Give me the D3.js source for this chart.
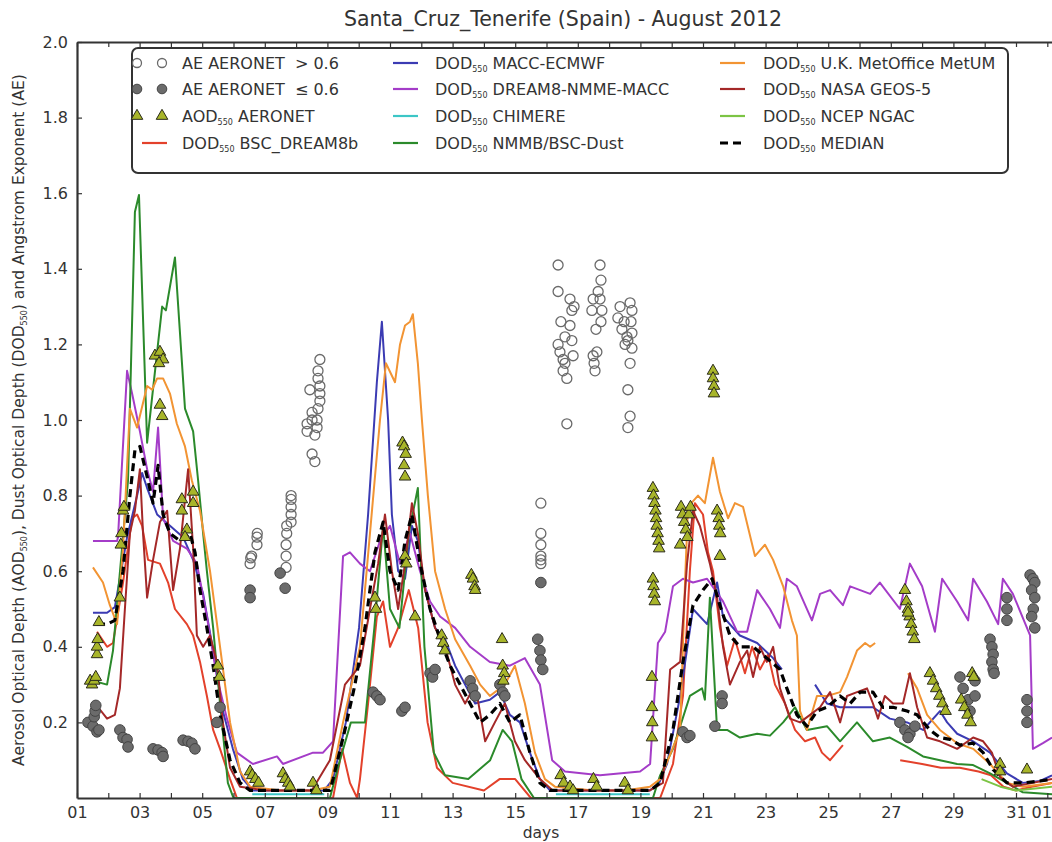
<!DOCTYPE html>
<html>
<head>
<meta charset="utf-8">
<script src="https://cdnjs.cloudflare.com/ajax/libs/d3/7.8.5/d3.min.js"></script>
<style>
  body { margin: 0; background: #fff; }
  text { font-family: "DejaVu Sans", sans-serif; fill: #333; }
</style>
</head>
<body>
<div id="chart"></div>
<script>
// --- data: [day of August, value]; null value = gap in the series ---
var bscDream8b = [[1.64,0.44],[1.96,0.40],[2.15,0.41],[2.47,0.57],[2.76,0.74],[2.92,0.75],[3.08,0.72],[3.27,0.63],[3.65,0.62],[3.91,0.57],[4.13,0.50],[4.51,0.46],[4.71,0.43],[4.93,0.36],[5.15,0.27],[5.35,0.18],[5.57,0.13],[5.89,0.05],[6.11,0.0],[9.18,0.0],[9.47,0.13],[9.72,0.04],[9.95,0.0],[10.04,0.05],[10.30,0.25],[10.58,0.48],[10.78,0.52],[11.0,0.40],[11.26,0.45],[11.60,0.55],[11.90,0.45],[12.20,0.20],[12.50,0.08],[13.0,0.04],[14.0,0.02],[14.5,0.05],[15.0,0.05],[15.5,0.0],[19.63,0.0],[20.04,0.09],[20.36,0.27],[20.58,0.60],[20.74,0.78],[21.0,0.75],[21.16,0.65],[21.32,0.60],[21.54,0.45],[21.77,0.35],[22.02,0.42],[22.34,0.33],[22.57,0.40],[22.82,0.34],[23.08,0.38],[23.30,0.30],[23.62,0.25],[23.94,0.18],[24.26,0.15],[24.58,0.16],[24.80,0.12],[25.06,0.10],[25.47,0.14],[25.6,null],[27.3,0.10],[28.0,0.09],[28.6,0.08],[29.2,0.08],[29.8,0.07],[30.2,0.06],[30.6,0.03],[31.0,0.02],[31.5,0.03],[32.15,0.04]];
var maccEcmwf = [[1.51,0.49],[1.96,0.49],[2.21,0.505],[2.60,0.69],[2.92,0.80],[3.08,0.86],[3.24,0.82],[3.56,0.75],[3.97,0.72],[4.39,0.69],[4.71,0.63],[5.03,0.54],[5.35,0.39],[5.66,0.23],[5.98,0.13],[6.30,0.05],[6.62,0.02],[8.9,0.02],[9.18,0.05],[9.59,0.20],[10.01,0.45],[10.30,0.75],[10.58,1.10],[10.74,1.26],[10.94,1.0],[11.06,0.75],[11.26,0.60],[11.48,0.58],[11.70,0.72],[11.89,0.68],[12.12,0.55],[12.44,0.45],[12.76,0.42],[13.08,0.35],[13.40,0.30],[13.72,0.25],[14.19,0.26],[14.51,0.28],[14.83,0.22],[15.15,0.20],[15.47,0.12],[15.79,0.05],[16.11,0.02],[19.3,0.02],[19.6,0.04],[19.85,0.09],[20.27,0.27],[20.68,0.50],[21.13,0.46],[21.45,0.57],[21.64,0.48],[22.18,0.43],[22.73,0.41],[23.24,0.37],[23.52,0.34],[24.0,null],[24.58,0.30],[24.96,0.25],[25.38,0.24],[25.92,0.24],[26.43,0.24],[26.97,0.21],[27.52,0.20],[28.03,0.18],[28.57,0.23],[28.80,0.20],[29.12,0.17],[29.63,0.15],[30.17,0.12],[30.71,0.065],[31.22,0.04],[31.77,0.045],[32.15,0.06]];
var dream8Nmme = [[1.51,0.68],[2.28,0.68],[2.31,0.69],[2.60,1.13],[2.76,1.07],[3.01,0.97],[3.24,0.87],[3.43,0.81],[3.59,0.98],[3.75,0.74],[4.07,0.68],[4.51,0.66],[4.83,0.62],[5.15,0.48],[5.47,0.32],[5.79,0.21],[6.11,0.12],[6.62,0.09],[7.39,0.11],[7.58,0.09],[8.54,0.12],[8.86,0.12],[9.18,0.15],[9.50,0.64],[9.72,0.65],[10.04,0.62],[10.36,0.60],[10.68,0.68],[11.0,0.72],[11.32,0.62],[11.64,0.70],[11.96,0.60],[12.28,0.52],[12.60,0.48],[13.08,0.45],[13.56,0.40],[14.19,0.36],[14.83,0.35],[15.31,0.37],[15.79,0.30],[16.18,0.10],[16.59,0.07],[17.71,0.06],[18.99,0.07],[19.31,0.09],[19.56,0.41],[19.79,0.44],[20.04,0.56],[20.36,0.58],[20.68,0.57],[21.13,0.58],[21.64,0.52],[22.09,0.44],[22.41,0.44],[22.73,0.55],[23.14,0.50],[23.46,0.45],[23.68,0.58],[24.0,0.56],[24.48,0.47],[24.74,0.54],[25.06,0.55],[25.47,0.51],[25.70,0.56],[26.34,0.54],[26.65,0.57],[27.29,0.50],[27.61,0.62],[28.0,0.56],[28.41,0.44],[28.64,0.58],[29.12,0.52],[29.47,0.47],[29.63,0.58],[30.07,0.52],[30.43,0.46],[30.58,0.58],[30.90,0.54],[31.45,0.43],[31.54,0.13],[31.86,0.145],[32.15,0.16]];
var chimere = [[6.6,0.01],[8.9,0.01],[9.0,null],[16.3,0.01],[19.3,0.01]];
var nmmbDust = [[1.51,0.31],[1.96,0.30],[2.15,0.39],[2.63,0.84],[2.85,1.55],[2.98,1.595],[3.24,0.94],[3.72,1.30],[3.84,1.29],[4.13,1.43],[4.45,1.03],[4.71,0.97],[4.87,0.84],[5.03,0.70],[5.15,0.60],[5.35,0.45],[5.57,0.25],[5.82,0.04],[6.0,0.0],[9.08,0.0],[9.40,0.10],[9.75,0.20],[10.20,0.20],[10.50,0.45],[10.78,0.72],[11.0,0.50],[11.30,0.45],[11.60,0.70],[11.89,0.82],[12.10,0.40],[12.40,0.12],[12.76,0.06],[13.50,0.05],[14.20,0.10],[14.60,0.18],[14.90,0.15],[15.20,0.05],[15.60,0.0],[19.40,0.0],[19.63,0.06],[20.04,0.13],[20.58,0.27],[20.97,0.29],[21.06,0.26],[21.22,0.53],[21.45,0.18],[21.77,0.18],[22.18,0.16],[22.73,0.17],[23.14,0.165],[23.56,0.20],[23.94,0.24],[24.32,0.18],[24.96,0.19],[25.38,0.15],[25.92,0.20],[26.43,0.15],[26.97,0.16],[27.52,0.135],[28.03,0.11],[28.57,0.10],[29.12,0.09],[29.63,0.087],[30.17,0.065],[30.71,0.04],[31.22,0.015],[32.15,0.01]];
var metUM = [[1.51,0.61],[1.83,0.57],[2.05,0.51],[2.28,0.46],[2.47,0.66],[2.69,1.03],[2.92,0.98],[3.24,1.09],[3.40,1.08],[3.56,1.11],[3.75,1.11],[3.97,1.07],[4.19,0.99],[4.45,0.93],[4.67,0.84],[4.93,0.76],[5.25,0.60],[5.57,0.40],[5.89,0.20],[6.21,0.07],[6.53,0.03],[7.5,0.02],[8.5,0.02],[9.08,0.03],[9.50,0.20],[10.04,0.40],[10.36,0.70],[10.68,1.0],[10.87,1.15],[11.16,1.10],[11.32,1.20],[11.48,1.25],[11.64,1.26],[11.73,1.28],[11.89,1.15],[12.02,1.0],[12.21,0.80],[12.44,0.60],[12.76,0.50],[13.08,0.42],[13.56,0.35],[13.88,0.30],[14.19,0.27],[14.67,0.30],[14.99,0.35],[15.31,0.25],[15.63,0.12],[15.95,0.05],[16.27,0.03],[17.5,0.02],[18.5,0.02],[19.31,0.03],[19.63,0.05],[20.27,0.18],[20.43,0.58],[20.52,0.77],[20.84,0.80],[21.06,0.78],[21.32,0.90],[21.54,0.81],[21.80,0.74],[22.02,0.78],[22.28,0.77],[22.66,0.64],[22.98,0.67],[23.24,0.63],[23.56,0.56],[23.84,0.47],[24.0,0.43],[24.10,0.23],[24.32,0.18],[24.64,0.27],[24.96,0.27],[25.38,0.28],[25.60,0.32],[25.92,0.39],[26.18,0.41],[26.34,0.40],[26.50,0.41],[26.6,null],[27.55,0.33],[27.84,0.29],[28.16,0.22],[28.57,0.18],[29.12,0.145],[29.63,0.13],[30.17,0.09],[30.71,0.04],[31.22,0.03],[32.15,0.04]];
var geos5 = [[1.58,0.25],[1.96,0.21],[2.21,0.22],[2.37,0.29],[2.53,0.50],[2.69,0.70],[2.85,0.76],[3.01,0.87],[3.11,0.70],[3.24,0.53],[3.43,0.63],[3.65,0.73],[3.88,0.76],[4.07,0.55],[4.29,0.66],[4.55,0.87],[4.71,0.66],[4.83,0.43],[5.03,0.40],[5.25,0.43],[5.47,0.36],[5.66,0.20],[5.89,0.08],[6.21,0.03],[7.0,0.02],[8.5,0.02],[9.08,0.10],[9.56,0.30],[10.04,0.35],[10.36,0.50],[10.62,0.62],[10.84,0.75],[11.06,0.60],[11.26,0.50],[11.48,0.62],[11.70,0.78],[11.89,0.70],[12.12,0.55],[12.44,0.45],[12.76,0.40],[13.08,0.30],[13.40,0.25],[13.72,0.30],[14.04,0.15],[14.35,0.20],[14.67,0.25],[14.99,0.15],[15.31,0.10],[15.79,0.05],[16.2,0.02],[19.3,0.02],[19.72,0.04],[19.95,0.34],[20.27,0.36],[20.49,0.62],[20.68,0.76],[20.90,0.72],[21.22,0.62],[21.45,0.53],[21.64,0.40],[21.86,0.30],[22.18,0.36],[22.41,0.39],[22.60,0.32],[22.82,0.40],[23.04,0.36],[23.24,0.40],[23.46,0.29],[23.78,0.21],[24.10,0.20],[24.42,0.22],[24.74,0.24],[25.06,0.28],[25.38,0.20],[25.60,0.27],[25.92,0.28],[26.24,0.29],[26.43,0.25],[26.59,0.21],[26.81,0.27],[27.07,0.25],[27.39,0.25],[27.61,0.33],[27.84,0.24],[28.16,0.16],[28.57,0.15],[29.12,0.13],[29.63,0.16],[29.95,0.15],[30.23,0.12],[30.49,0.055],[30.90,0.03],[31.54,0.04],[32.15,0.05]];
var ncepNgac = [[29.9,0.05],[30.5,0.03],[31.0,0.02],[32.15,0.03]];
var median = [[1.64,0.46],[1.96,0.46],[2.21,0.47],[2.47,0.60],[2.69,0.80],[2.85,0.92],[3.01,0.93],[3.24,0.85],[3.43,0.78],[3.59,0.88],[3.75,0.75],[3.97,0.70],[4.29,0.68],[4.61,0.70],[4.77,0.65],[4.93,0.55],[5.15,0.45],[5.35,0.35],[5.57,0.22],[5.89,0.10],[6.21,0.04],[6.53,0.02],[9.08,0.02],[9.18,0.05],[9.56,0.18],[9.88,0.30],[10.20,0.45],[10.52,0.65],[10.78,0.73],[11.0,0.60],[11.26,0.55],[11.48,0.68],[11.70,0.75],[11.96,0.62],[12.28,0.50],[12.60,0.42],[12.92,0.35],[13.24,0.30],[13.56,0.25],[13.88,0.20],[14.19,0.22],[14.51,0.25],[14.83,0.20],[15.15,0.22],[15.47,0.12],[15.79,0.04],[16.11,0.02],[19.31,0.02],[19.63,0.04],[20.04,0.18],[20.36,0.36],[20.68,0.51],[21.0,0.55],[21.29,0.58],[21.54,0.51],[21.86,0.43],[22.18,0.40],[22.60,0.40],[23.04,0.37],[23.46,0.34],[23.68,0.29],[24.0,0.22],[24.32,0.19],[24.64,0.23],[24.96,0.24],[25.38,0.27],[25.70,0.25],[26.02,0.28],[26.43,0.28],[26.75,0.24],[27.07,0.24],[27.52,0.23],[27.84,0.22],[28.25,0.18],[28.57,0.16],[28.89,0.155],[29.21,0.14],[29.63,0.145],[29.95,0.12],[30.27,0.075],[30.71,0.04],[31.22,0.04],[31.77,0.045],[32.15,0.05]];

var aeHigh = [[6.53,0.62],[6.55,0.635],[6.58,0.64],[6.75,0.67],[6.75,0.69],[6.76,0.70],
  [7.68,0.61],[7.68,0.64],[7.68,0.67],[7.70,0.70],[7.70,0.72],[7.84,0.73],[7.84,0.75],[7.84,0.77],[7.84,0.79],[7.84,0.80],
  [8.76,1.16],[8.70,1.13],[8.70,1.11],[8.76,1.09],[8.76,1.05],[8.44,1.08],[8.51,1.02],[8.51,1.0],[8.67,1.0],[8.35,0.97],[8.60,0.96],[8.51,0.91],[8.60,0.89],[8.67,0.98],[8.76,1.07],[8.70,1.03],[8.35,0.99],
  [15.82,0.78],[15.82,0.70],[15.82,0.67],[15.82,0.64],[15.82,0.63],[15.82,0.62],
  [16.37,1.41],[16.37,1.34],[16.46,1.26],[16.37,1.20],[16.43,1.18],[16.53,1.16],[16.65,1.11],[16.59,1.15],[16.65,0.99],[16.75,1.32],[16.81,1.29],[16.75,1.25],[16.81,1.21],[16.85,1.17],[16.88,1.30],[16.53,1.13],[16.59,1.22],
  [17.49,1.32],[17.45,1.29],[17.58,1.24],[17.65,1.34],[17.71,1.41],[17.74,1.37],[17.71,1.32],[17.77,1.29],[17.61,1.18],[17.49,1.17],[17.52,1.15],[17.55,1.13],[17.74,1.26],
  [18.35,1.30],[18.48,1.26],[18.41,1.24],[18.57,1.22],[18.51,1.20],[18.67,1.31],[18.73,1.29],[18.70,1.26],[18.73,1.23],[18.60,1.21],[18.67,1.15],[18.60,1.08],[18.67,1.01],[18.60,0.98],[18.73,1.19],[18.28,1.27]];
var aeLow = [[1.35,0.20],[1.51,0.19],[1.64,0.175],[1.70,0.18],[1.55,0.215],[1.58,0.23],[1.60,0.245],
  [2.37,0.18],[2.47,0.16],[2.60,0.155],[2.63,0.135],
  [3.43,0.13],[3.59,0.127],[3.72,0.12],[3.75,0.11],
  [4.39,0.153],[4.55,0.15],[4.67,0.145],[4.77,0.13],
  [5.47,0.20],[5.57,0.24],
  [6.53,0.55],[6.53,0.53],[7.49,0.595],[7.65,0.555],
  [10.46,0.28],[10.58,0.27],[10.68,0.26],[11.38,0.23],[11.48,0.24],
  [12.28,0.33],[12.36,0.32],[12.44,0.34],
  [13.56,0.31],[13.64,0.29],[13.72,0.27],
  [14.51,0.30],[14.60,0.28],[14.67,0.27],
  [15.82,0.57],[15.72,0.42],[15.79,0.39],[15.82,0.365],[15.88,0.34],
  [20.36,0.175],[20.49,0.16],[20.58,0.165],
  [21.38,0.19],[21.61,0.27],[21.61,0.25],
  [27.29,0.20],[27.45,0.18],[27.61,0.17],[27.77,0.19],[27.55,0.16],
  [29.21,0.32],[29.31,0.29],[29.47,0.26],[29.53,0.23],[29.69,0.31],[29.69,0.27],
  [30.17,0.42],[30.23,0.40],[30.27,0.38],[30.23,0.36],[30.27,0.34],[30.30,0.33],[30.71,0.53],[30.71,0.50],[30.71,0.47],
  [31.35,0.26],[31.35,0.23],[31.35,0.20],[31.45,0.59],[31.54,0.58],[31.60,0.57],[31.50,0.55],[31.60,0.53],[31.55,0.50],[31.50,0.48],[31.60,0.45]];
var aod = [[1.42,0.31],[1.48,0.30],[1.55,0.31],[1.60,0.32],[1.64,0.38],[1.64,0.40],[1.66,0.42],[1.70,0.465],
  [2.37,0.53],[2.40,0.67],[2.42,0.70],[2.47,0.76],[2.50,0.77],
  [3.49,1.17],[3.65,1.18],[3.75,1.16],[3.62,1.15],[3.65,1.04],[3.72,1.01],
  [4.35,0.79],[4.35,0.76],[4.51,0.71],[4.45,0.69],[4.71,0.81],[4.71,0.78],
  [5.50,0.35],[5.55,0.32],
  [6.53,0.07],[6.60,0.06],[6.70,0.05],[6.80,0.04],
  [7.58,0.065],[7.65,0.05],[7.75,0.04],[7.81,0.03],
  [8.54,0.04],[8.65,0.02],
  [10.52,0.53],[10.55,0.50],
  [11.40,0.94],[11.45,0.93],[11.50,0.91],[11.45,0.88],[11.48,0.85],[11.48,0.64],[11.52,0.62],[11.80,0.48],
  [12.65,0.43],[12.70,0.41],[12.75,0.39],
  [13.60,0.59],[13.65,0.58],[13.70,0.56],[13.72,0.55],
  [14.60,0.35],[14.65,0.33],[14.62,0.31],[14.58,0.42],
  [16.45,0.06],[16.55,0.04],[16.75,0.03],[16.85,0.02],
  [17.50,0.05],[17.60,0.03],[18.50,0.04],[18.60,0.02],
  [19.40,0.82],[19.42,0.80],[19.45,0.78],[19.48,0.76],[19.50,0.74],[19.52,0.72],[19.55,0.70],[19.58,0.68],[19.60,0.66],
  [19.40,0.58],[19.42,0.56],[19.44,0.54],[19.46,0.52],[19.37,0.32],[19.37,0.24],[19.38,0.20],[19.37,0.16],
  [20.30,0.77],[20.35,0.75],[20.40,0.73],[20.45,0.71],[20.50,0.69],[20.27,0.67],[20.55,0.75],[20.60,0.77],
  [21.45,0.76],[21.50,0.74],[21.52,0.72],[21.55,0.70],[21.54,0.64],
  [21.32,1.13],[21.32,1.11],[21.35,1.09],[21.35,1.07],
  [27.45,0.55],[27.50,0.52],[27.55,0.50],[27.60,0.48],[27.65,0.46],[27.70,0.44],[27.75,0.42],[27.55,0.49],
  [28.25,0.33],[28.35,0.31],[28.45,0.29],[28.55,0.27],[28.65,0.25],[28.75,0.23],
  [29.25,0.26],[29.35,0.24],[29.45,0.22],[29.55,0.20],[29.60,0.33],[29.65,0.32],
  [30.49,0.09],[30.49,0.07],[31.35,0.075]];

var dayTicks = d3.range(1, 33);
var yTicks = [0.2, 0.4, 0.6, 0.8, 1.0, 1.2, 1.4, 1.6, 1.8, 2.0];

var models = [
  {name: " BSC_DREAM8b", data: bscDream8b, color: "#e3412b"},
  {name: " MACC-ECMWF", data: maccEcmwf, color: "#3b3bb3"},
  {name: " DREAM8-NMME-MACC", data: dream8Nmme, color: "#a43cc8"},
  {name: " CHIMERE", data: chimere, color: "#3cc6c6"},
  {name: " NMMB/BSC-Dust", data: nmmbDust, color: "#2b8a2b"},
  {name: " U.K. MetOffice MetUM", data: metUM, color: "#f29433"},
  {name: " NASA GEOS-5", data: geos5, color: "#a42828"},
  {name: " NCEP NGAC", data: ncepNgac, color: "#7cc444"},
  {name: " MEDIAN", data: median, color: "#000", dash: "8,5", width: 3.2}
];

var svgWidth = 1052;
var svgHeight = 842;
var margin = {top: 42, right: 0, bottom: 44, left: 77};
var width = svgWidth - margin.left - margin.right;
var height = svgHeight - margin.top - margin.bottom;

var svg = d3.select("#chart").append("svg")
  .attr("width", svgWidth)
  .attr("height", svgHeight)
  .style("background", "#fff");

var chartGroup = svg.append("g")
  .attr("transform", `translate(${margin.left}, ${margin.top})`);

var xScale = d3.scaleLinear().domain([1, 32.15]).range([0, width]);
var yScale = d3.scaleLinear().domain([0, 2]).range([height, 0]);

svg.append("defs").append("clipPath").attr("id", "plotclip")
  .append("rect").attr("x", 0).attr("y", 0).attr("width", width).attr("height", height);

// model lines
var line = d3.line()
  .defined(d => d[1] !== null)
  .x(d => xScale(d[0]))
  .y(d => yScale(d[1]));

var plot = chartGroup.append("g").attr("clip-path", "url(#plotclip)");

models.forEach(function(m) {
  plot.append("path")
    .datum(m.data)
    .attr("d", line)
    .attr("fill", "none")
    .attr("stroke", m.color)
    .attr("stroke-width", m.width || 2)
    .attr("stroke-dasharray", m.dash || null)
    .attr("stroke-linejoin", "round");
});

// AERONET markers
plot.selectAll(".aeHigh").data(aeHigh).enter().append("circle")
  .attr("cx", d => xScale(d[0])).attr("cy", d => yScale(d[1])).attr("r", 5)
  .attr("fill", "none").attr("stroke", "#6a6a6a").attr("stroke-width", 1.3);

plot.selectAll(".aeLow").data(aeLow).enter().append("circle")
  .attr("cx", d => xScale(d[0])).attr("cy", d => yScale(d[1])).attr("r", 5.3)
  .attr("fill", "#6b6b6b").attr("stroke", "#444").attr("stroke-width", 1);

var tri = d3.symbol().type(d3.symbolTriangle).size(58);
plot.selectAll(".aod").data(aod).enter().append("path")
  .attr("d", tri)
  .attr("transform", d => `translate(${xScale(d[0])}, ${yScale(d[1])})`)
  .attr("fill", "#a8b52a").attr("stroke", "#2a2a1a").attr("stroke-width", 1);

// axes
var bottomAxis = d3.axisBottom(xScale)
  .tickValues(dayTicks)
  .tickSizeInner(-5).tickSizeOuter(0).tickPadding(9)
  .tickFormat(d => d === 32 ? "01" : (d % 2 === 1 ? d3.format("02")(d) : ""));
var topAxis = d3.axisTop(xScale)
  .tickValues(dayTicks)
  .tickSizeInner(-5).tickSizeOuter(0)
  .tickFormat("");
var leftAxis = d3.axisLeft(yScale)
  .tickValues(yTicks)
  .tickSizeInner(-5).tickSizeOuter(0).tickPadding(9)
  .tickFormat(d3.format(".1f"));

var gx = chartGroup.append("g").attr("transform", `translate(0, ${height})`).call(bottomAxis);
var gt = chartGroup.append("g").call(topAxis);
var gy = chartGroup.append("g").call(leftAxis);

[gx, gt, gy].forEach(function(g) {
  g.select(".domain").attr("stroke", "#333").attr("stroke-width", 2.2);
  g.selectAll(".tick line").attr("stroke", "#333").attr("stroke-width", 1.2);
  g.selectAll(".tick text").attr("font-size", 16).attr("font-family", "DejaVu Sans").attr("fill", "#333");
});
// the last label (01 September) sits at the right edge: keep it inside the page
gx.selectAll(".tick text").filter(d => d === 32)
  .attr("text-anchor", "end").attr("x", 4);

// title and axis labels
svg.append("text")
  .attr("x", 563).attr("y", 26)
  .attr("text-anchor", "middle")
  .attr("font-size", 20.5)
  .text("Santa_Cruz_Tenerife (Spain) - August 2012");

svg.append("text")
  .attr("x", 541).attr("y", 838)
  .attr("text-anchor", "middle")
  .attr("font-size", 15.5)
  .text("days");

var ylab = svg.append("text")
  .attr("transform", "translate(24, 420) rotate(-90)")
  .attr("text-anchor", "middle")
  .attr("font-size", 15.5);
ylab.append("tspan").text("Aerosol Optical Depth (AOD");
ylab.append("tspan").attr("font-size", 8).attr("dy", 3).text("550");
ylab.append("tspan").attr("dy", -3).text("), Dust Optical Depth (DOD");
ylab.append("tspan").attr("font-size", 8).attr("dy", 3).text("550");
ylab.append("tspan").attr("dy", -3).text(") and Angstrom Exponent (AE)");

// legend
var legend = svg.append("g");
legend.append("rect")
  .attr("x", 132).attr("y", 48).attr("width", 876).attr("height", 125).attr("rx", 6)
  .attr("fill", "#fff").attr("stroke", "#333").attr("stroke-width", 2);

var rowY = [63, 89, 116, 143];

function labelText(x, y, prefix, sub, rest) {
  var t = legend.append("text").attr("x", x).attr("y", y + 5.5).attr("font-size", 16);
  t.append("tspan").text(prefix);
  if (sub) {
    t.append("tspan").attr("font-size", 8).attr("dy", 3).text(sub);
    t.append("tspan").attr("dy", -3).text(rest);
  }
}

[137, 162].forEach(function(cx) {
  legend.append("circle").attr("cx", cx).attr("cy", rowY[0]).attr("r", 4.5)
    .attr("fill", "none").attr("stroke", "#6a6a6a").attr("stroke-width", 1.3);
  legend.append("circle").attr("cx", cx).attr("cy", rowY[1]).attr("r", 4.8)
    .attr("fill", "#6b6b6b").attr("stroke", "#444");
  legend.append("path").attr("d", tri)
    .attr("transform", `translate(${cx}, ${rowY[2]})`)
    .attr("fill", "#a8b52a").attr("stroke", "#2a2a1a");
});
labelText(182, rowY[0], "AE AERONET\u00a0\u00a0> 0.6");
labelText(182, rowY[1], "AE AERONET\u00a0\u00a0\u2264 0.6");
labelText(182, rowY[2], "AOD", "550", " AERONET");

models.forEach(function(m, i) {
  var col, row;
  if (i === 0) { col = {x0: 142, tx: 182}; row = 3; }
  else if (i <= 4) { col = {x0: 393, tx: 435}; row = i - 1; }
  else { col = {x0: 720, tx: 763}; row = i - 5; }
  legend.append("line")
    .attr("x1", col.x0).attr("x2", col.x0 + 25)
    .attr("y1", rowY[row]).attr("y2", rowY[row])
    .attr("stroke", m.color)
    .attr("stroke-width", m.width || 2.2)
    .attr("stroke-dasharray", m.dash || null);
  labelText(col.tx, rowY[row], "DOD", "550", m.name);
});
</script>
</body>
</html>
